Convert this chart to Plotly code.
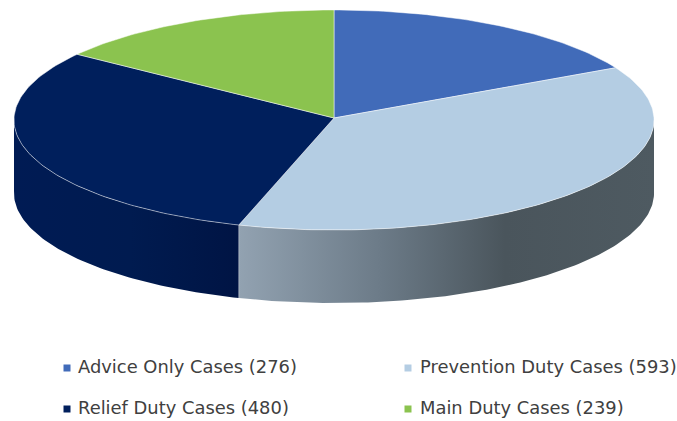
import math
import plotly.graph_objects as go

categories = ["Advice Only Cases", "Prevention Duty Cases", "Relief Duty Cases", "Main Duty Cases"]
values = [276, 593, 480, 239]
top_colors = ["#416BB9", "#B4CDE3", "#001F5C", "#8BC34F"]

# side shading: (pixel x, colour) stops per slice
side_stops = {
    "Prevention Duty Cases": [(244, "rgb(146,162,177)"), (380, "rgb(108,123,136)"), (505, "rgb(74,85,92)"), (654, "rgb(78,90,97)")],
    "Relief Duty Cases": [(14, "rgb(0,27,84)"), (130, "rgb(0,27,80)"), (244, "rgb(0,20,68)")],
}

CX, CY, RX, RY, K, DEPTH = 334, 118, 320, 110, 0.018, 73
legend_marker_x = [67, 408, 67, 408]
legend_text_x = [78, 420, 78, 420]
legend_y = [368, 368, 409, 409]
FONT = "DejaVu Sans"
FONT_SIZE = 17.9


def project(theta_deg, drop=0.0):
    t = math.radians(theta_deg)
    s = 1 / (1 + K * math.cos(t))
    return CX + RX * math.sin(t) * s, CY - RY * math.cos(t) * s + drop


def arc(a, b, drop=0.0, step=1.0):
    n = max(2, int(abs(b - a) / step) + 1)
    pts = [project(a + (b - a) * i / (n - 1), drop) for i in range(n)]
    return [p[0] for p in pts], [p[1] for p in pts]


total = sum(values)
bounds = [0.0]
for v in values:
    bounds.append(bounds[-1] + v / total * 360)

fig = go.Figure()

# visible side wall (front half of the disc), one gradient-filled polygon per slice
for name, a, b in zip(categories, bounds, bounds[1:]):
    lo, hi = max(a, 90), min(b, 270)
    if lo >= hi or name not in side_stops:
        continue
    xt, yt = arc(lo, hi)
    xb, yb = arc(hi, lo, DEPTH)
    xs = xt + xb
    x0, x1 = min(xs), max(xs)
    scale = [[min(1, max(0, (px - x0) / (x1 - x0))), c] for px, c in side_stops[name]]
    scale[0][0], scale[-1][0] = 0, 1
    fig.add_trace(go.Scatter(
        x=xs + [xs[0]], y=yt + yb + [yt[0]], mode="lines", fill="toself",
        fillgradient=dict(type="horizontal", colorscale=scale),
        line=dict(width=0), hoverinfo="skip", showlegend=False))

# top face
for name, col, a, b in zip(categories, top_colors, bounds, bounds[1:]):
    xa, ya = arc(a, b)
    fig.add_trace(go.Scatter(
        x=[CX] + xa + [CX], y=[CY] + ya + [CY], mode="lines", fill="toself", fillcolor=col,
        line=dict(color="rgba(255,255,255,0.55)", width=0.9), name=name,
        hoverinfo="skip", showlegend=False))

# boundary between the two side walls
xe, ye = project(bounds[2])
fig.add_trace(go.Scatter(
    x=[xe, xe], y=[ye, ye + DEPTH], mode="lines",
    line=dict(color="rgba(255,255,255,0.4)", width=0.8), hoverinfo="skip", showlegend=False))

# legend
for name, v, col, mx, tx, ly in zip(categories, values, top_colors, legend_marker_x, legend_text_x, legend_y):
    fig.add_trace(go.Scatter(
        x=[mx], y=[ly], mode="markers", marker=dict(symbol="square", size=7, color=col),
        hoverinfo="skip", showlegend=False))
    fig.add_trace(go.Scatter(
        x=[tx], y=[ly + 1], mode="text", text=[f"{name} ({v})"], textposition="middle right",
        textfont=dict(family=FONT, size=FONT_SIZE, color="#404040"),
        cliponaxis=False, hoverinfo="skip", showlegend=False))

fig.update_layout(
    width=677, height=421, margin=dict(l=0, r=0, t=0, b=0),
    paper_bgcolor="white", plot_bgcolor="white", showlegend=False,
    xaxis=dict(range=[0, 677], visible=False, fixedrange=True),
    yaxis=dict(range=[421, 0], visible=False, fixedrange=True),
)
fig.write_html(
    "out.html",
    config={"displayModeBar": False},
    post_script="document.body.style.margin='0';document.body.style.overflow='hidden';",
)
